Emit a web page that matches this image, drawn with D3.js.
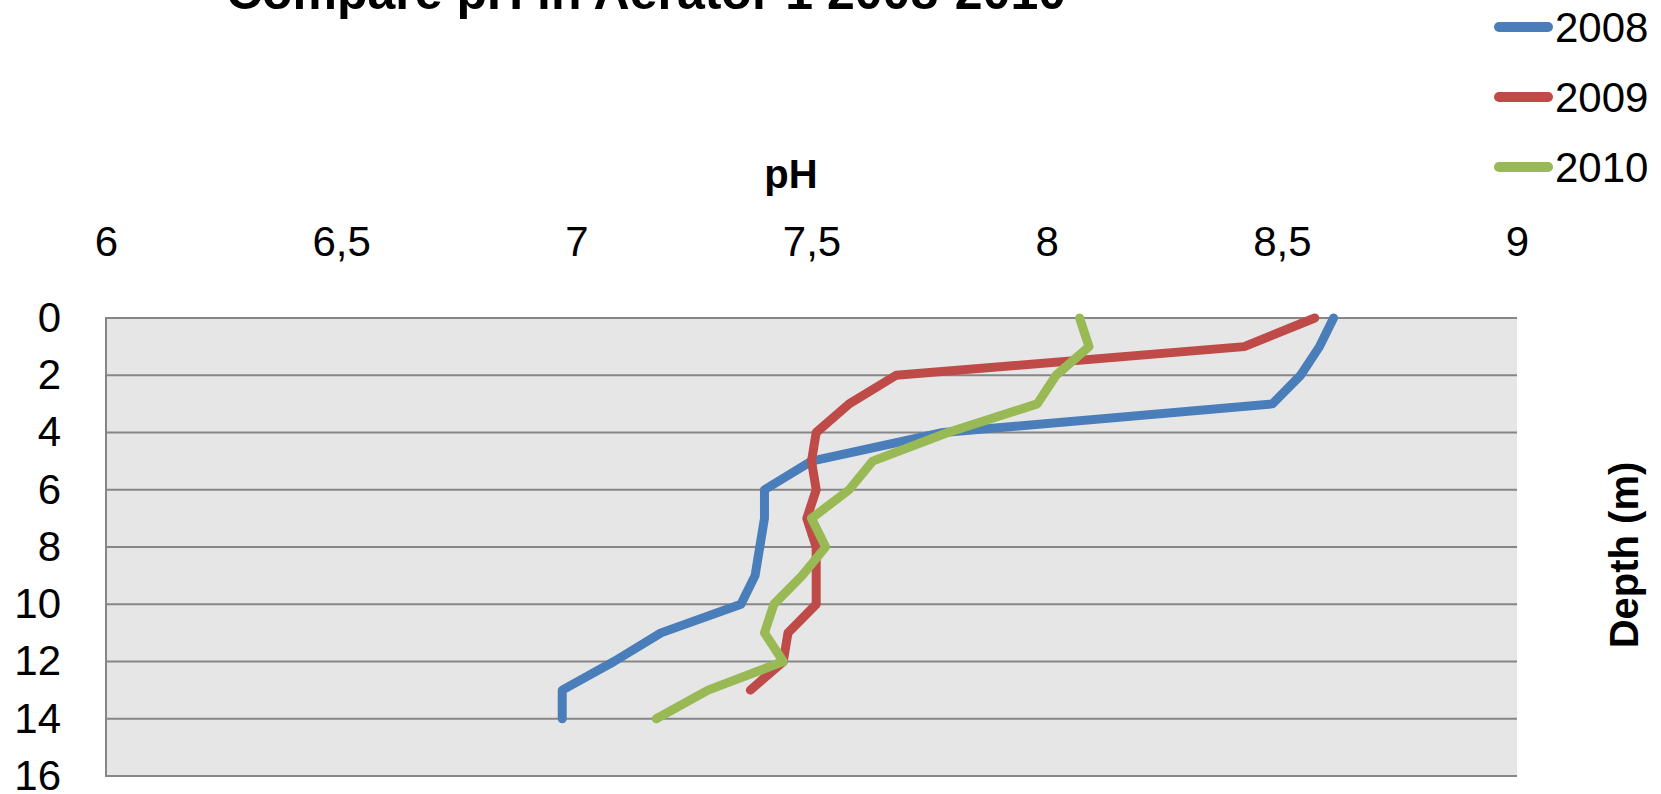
<!DOCTYPE html>
<html>
<head>
<meta charset="utf-8">
<script src="https://cdn.jsdelivr.net/npm/d3@7"></script>
<style>
  html, body { margin: 0; padding: 0; background: #fff; }
  svg { display: block; font-family: "Liberation Sans", Arial, sans-serif; }
</style>
</head>
<body>
<svg id="chart" width="1661" height="794"></svg>
<script>
// pH profiles by depth, one list per year
const depths2008 = [0, 1, 2, 3, 4, 5, 6, 7, 8, 9, 10, 11, 12, 13, 14];
const ph2008     = [8.61, 8.58, 8.54, 8.48, 7.78, 7.50, 7.40, 7.40, 7.39, 7.38, 7.35, 7.18, 7.08, 6.97, 6.97];

const depths2009 = [0, 1, 2, 3, 4, 5, 6, 7, 8, 9, 10, 11, 12, 13];
const ph2009     = [8.57, 8.42, 7.68, 7.58, 7.51, 7.50, 7.51, 7.49, 7.51, 7.51, 7.51, 7.45, 7.44, 7.37];

const depths2010 = [0, 1, 2, 3, 4, 5, 6, 7, 8, 9, 10, 11, 12, 13, 14];
const ph2010     = [8.07, 8.09, 8.02, 7.98, 7.79, 7.63, 7.58, 7.50, 7.53, 7.48, 7.42, 7.40, 7.44, 7.28, 7.17];

const seriesNames  = ["2008", "2009", "2010"];
const seriesColors = ["#4a7ebb", "#be4b48", "#98b954"];

const phTicks    = [6, 6.5, 7, 7.5, 8, 8.5, 9];
const depthTicks = [0, 2, 4, 6, 8, 10, 12, 14, 16];

const chartTitle = "Compare pH in Aerator 1 2008-2010";

const series = [
  { name: seriesNames[0], color: seriesColors[0], pts: depths2008.map((d, i) => ({ d, ph: ph2008[i] })) },
  { name: seriesNames[1], color: seriesColors[1], pts: depths2009.map((d, i) => ({ d, ph: ph2009[i] })) },
  { name: seriesNames[2], color: seriesColors[2], pts: depths2010.map((d, i) => ({ d, ph: ph2010[i] })) }
];

const svg = d3.select("#chart");
const plot = { left: 106, right: 1517, top: 318, bottom: 776 };

const x = d3.scaleLinear().domain([6, 9]).range([plot.left, plot.right]);
const y = d3.scaleLinear().domain([0, 16]).range([plot.top, plot.bottom]);

// plot area background
svg.append("rect")
  .attr("x", plot.left).attr("y", plot.top)
  .attr("width", plot.right - plot.left).attr("height", plot.bottom - plot.top)
  .attr("fill", "#e6e6e6");

// horizontal gridlines at each depth tick
svg.append("g")
  .selectAll("line")
  .data(depthTicks)
  .join("line")
  .attr("x1", plot.left).attr("x2", plot.right)
  .attr("y1", d => y(d)).attr("y2", d => y(d))
  .attr("stroke", "#868686").attr("stroke-width", 2);

// left axis line
svg.append("line")
  .attr("x1", plot.left).attr("x2", plot.left)
  .attr("y1", plot.top - 1).attr("y2", plot.bottom + 1)
  .attr("stroke", "#868686").attr("stroke-width", 2);

// pH axis along the top, decimal comma
const xAxis = d3.axisTop(x)
  .tickValues(phTicks)
  .tickSize(0)
  .tickPadding(0)
  .tickFormat(v => String(v).replace(".", ","));

const gx = svg.append("g")
  .attr("transform", "translate(0,256)")
  .call(xAxis);
gx.select(".domain").remove();
gx.selectAll("text")
  .attr("y", 0).attr("dy", 0)
  .attr("font-size", 42)
  .attr("font-family", "'Liberation Sans', Arial, sans-serif")
  .attr("fill", "#000");

// depth axis on the left
const yAxis = d3.axisLeft(y)
  .tickValues(depthTicks)
  .tickSize(0)
  .tickPadding(0)
  .tickFormat(d3.format("d"));

const gy = svg.append("g")
  .attr("transform", "translate(61,0)")
  .call(yAxis);
gy.select(".domain").remove();
gy.selectAll("text")
  .attr("x", 0).attr("dy", "0.32em")
  .attr("font-size", 42)
  .attr("font-family", "'Liberation Sans', Arial, sans-serif")
  .attr("fill", "#000");

// profile lines
const line = d3.line()
  .x(p => x(p.ph))
  .y(p => y(p.d));

svg.append("g")
  .selectAll("path")
  .data(series)
  .join("path")
  .attr("d", s => line(s.pts))
  .attr("fill", "none")
  .attr("stroke", s => s.color)
  .attr("stroke-width", 9)
  .attr("stroke-linejoin", "round")
  .attr("stroke-linecap", "round");

// title
svg.append("text")
  .attr("x", 646).attr("y", 9)
  .attr("text-anchor", "middle")
  .attr("font-size", 50)
  .attr("font-weight", "bold")
  .attr("fill", "#000")
  .text(chartTitle);

// axis titles
svg.append("text")
  .attr("x", 791).attr("y", 188)
  .attr("text-anchor", "middle")
  .attr("font-size", 40)
  .attr("font-weight", "bold")
  .attr("fill", "#000")
  .text("pH");

svg.append("text")
  .attr("transform", "translate(1638,555) rotate(-90)")
  .attr("text-anchor", "middle")
  .attr("font-size", 40)
  .attr("font-weight", "bold")
  .attr("fill", "#000")
  .text("Depth (m)");

// legend
const legend = svg.append("g")
  .selectAll("g")
  .data(series)
  .join("g")
  .attr("transform", (s, i) => `translate(0,${27 + i * 70})`);

legend.append("line")
  .attr("x1", 1499).attr("x2", 1548)
  .attr("y1", 0).attr("y2", 0)
  .attr("stroke", s => s.color)
  .attr("stroke-width", 10)
  .attr("stroke-linecap", "round");

legend.append("text")
  .attr("x", 1555).attr("y", 15)
  .attr("font-size", 42)
  .attr("fill", "#000")
  .text(s => s.name);
</script>
</body>
</html>
